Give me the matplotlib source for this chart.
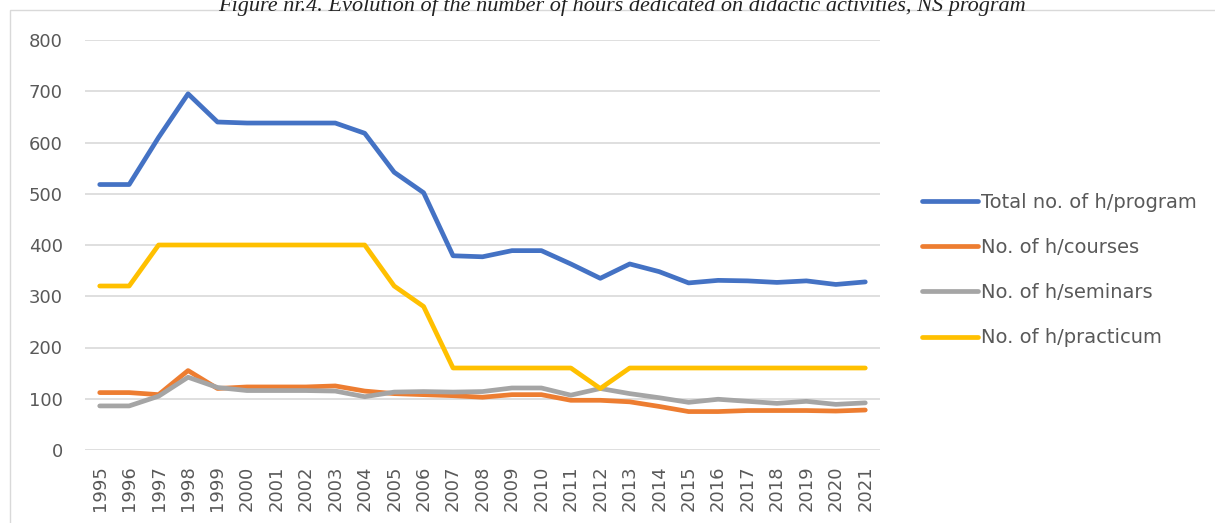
import matplotlib

matplotlib.use("Agg")
import matplotlib.pyplot as plt
from matplotlib.patches import Rectangle

years = [str(y) for y in range(1995, 2022)]
total_program = [518, 518, 610, 695, 640, 638, 638, 638, 638, 618, 542, 502, 379,
                 377, 389, 389, 363, 335, 363, 348, 326, 331, 330, 327, 330, 323, 328]
courses = [112, 112, 108, 155, 120, 123, 123, 123, 125, 115, 110, 108, 106,
           103, 108, 108, 97, 97, 94, 85, 75, 75, 77, 77, 77, 76, 78]
seminars = [86, 86, 105, 142, 122, 116, 116, 116, 115, 104, 113, 114, 113,
            114, 121, 121, 107, 120, 110, 102, 93, 99, 95, 91, 95, 89, 92]
practicum = [320, 320, 400, 400, 400, 400, 400, 400, 400, 400, 320, 280, 160,
             160, 160, 160, 160, 120, 160, 160, 160, 160, 160, 160, 160, 160, 160]

series = [
    ("Total no. of h/program", total_program, "#4472C4"),
    ("No. of h/courses", courses, "#ED7D31"),
    ("No. of h/seminars", seminars, "#A5A5A5"),
    ("No. of h/practicum", practicum, "#FFC000"),
]

fig = plt.figure(figsize=(12.15, 5.23), dpi=100)
ax = fig.add_axes([85 / 1215, 1 - 450 / 523, (880 - 85) / 1215, (450 - 40) / 523])

x = list(range(len(years)))
for label, vals, color in series:
    ax.plot(x, vals, color=color, lw=3.4, label=label,
            solid_capstyle="round", solid_joinstyle="round")

ax.set_xlim(-0.5, len(years) - 0.5)
ax.set_ylim(0, 800)
ax.set_yticks(range(0, 801, 100))
ax.set_xticks(x)
ax.set_xticklabels(years, rotation=90)
ax.tick_params(axis="both", length=0, labelsize=13, colors="#595959")
ax.tick_params(axis="y", pad=16)
ax.tick_params(axis="x", pad=11)
ax.grid(axis="y", color="#D9D9D9", lw=1.2)
ax.set_axisbelow(True)
for s in ax.spines.values():
    s.set_visible(False)

fig.legend(loc="center left", bbox_to_anchor=(904 / 1215, 1 - 270 / 523),
           frameon=False, fontsize=14, labelcolor="#595959",
           handlelength=2.9, handletextpad=0.15, labelspacing=1.35)

fig.patches.append(Rectangle((10 / 1215, -0.01), 1.0, 1 - 10 / 523 + 0.01,
                             transform=fig.transFigure, fill=False,
                             edgecolor="#D9D9D9", lw=1.0))

fig.text(622 / 1215, 1 - 6 / 523,
         "Figure nr.4. Evolution of the number of hours dedicated on didactic activities, NS program",
         ha="center", va="center", fontsize=16, style="italic",
         family="Liberation Serif", color="#222222")

fig.savefig("out.png", dpi=100)
